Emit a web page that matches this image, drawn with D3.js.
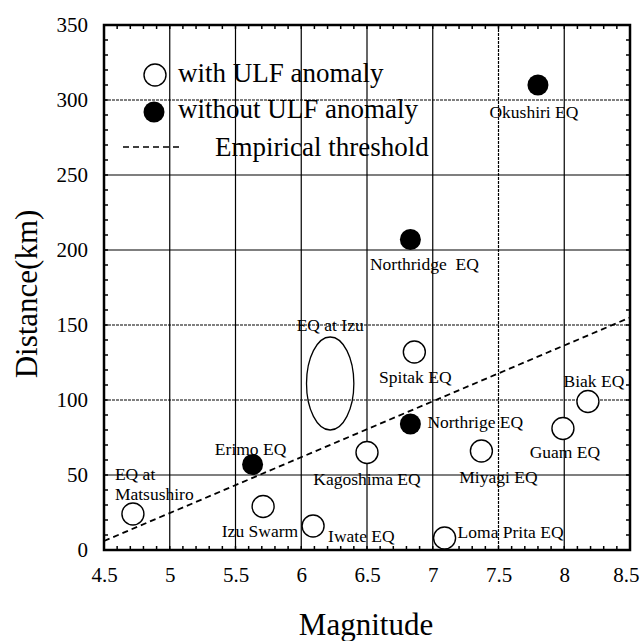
<!DOCTYPE html>
<html>
<head>
<meta charset="utf-8">
<script src="https://cdn.jsdelivr.net/npm/d3@7"></script>
<style>
  body { margin: 0; background: #fff; }
  text { font-family: "Liberation Serif", "DejaVu Serif", serif; fill: #000; }
</style>
</head>
<body>
<div id="chart"></div>
<script>
// earthquakes with ULF anomaly (open circles)
const withNames = ["EQ at Matsushiro", "Izu Swarm", "Iwate EQ", "Kagoshima EQ", "Spitak EQ",
  "Miyagi EQ", "Guam EQ", "Biak EQ", "Loma Prita EQ"];
const withMag = [4.72, 5.71, 6.09, 6.5, 6.86, 7.37, 7.99, 8.18, 7.09];
const withDist = [24, 29, 16, 65, 132, 66, 81, 99, 8];

// earthquakes without ULF anomaly (filled circles)
const withoutNames = ["Okushiri EQ", "Northridge  EQ", "Erimo EQ", "Northrige EQ"];
const withoutMag = [7.8, 6.83, 5.63, 6.83];
const withoutDist = [310, 207, 57, 84];

// EQ at Izu drawn as an ellipse (centre and half-sizes)
const izuCentre = [6.22, 111];
const izuHalf = [0.18, 31];

// empirical threshold end points
const threshMag = [4.5, 8.5];
const threshDist = [6, 155];

const xTicks = [4.5, 5, 5.5, 6, 6.5, 7, 7.5, 8, 8.5];
const yTicks = [0, 50, 100, 150, 200, 250, 300, 350];

const width = 640, height = 641;
const margin = { top: 25, right: 10, bottom: 91, left: 104 };
const iw = width - margin.left - margin.right;
const ih = height - margin.top - margin.bottom;
const labelSize = "17.5px";

const svg = d3.select("#chart").append("svg")
  .attr("width", width)
  .attr("height", height);

const g = svg.append("g").attr("transform", `translate(${margin.left},${margin.top})`);

const x = d3.scaleLinear().domain([4.5, 8.5]).range([0, iw]);
const y = d3.scaleLinear().domain([0, 350]).range([ih, 0]);

// grid lines (some of them look dotted in the original)
g.selectAll(".vgrid").data(xTicks.slice(1, -1)).enter().append("line")
  .attr("x1", d => x(d)).attr("x2", d => x(d))
  .attr("y1", 0).attr("y2", ih)
  .attr("stroke", "#000").attr("stroke-width", 1.2)
  .attr("stroke-dasharray", d => d === 7.5 ? "3,1" : null);

g.selectAll(".hgrid").data(yTicks.slice(1, -1)).enter().append("line")
  .attr("x1", 0).attr("x2", iw)
  .attr("y1", d => y(d)).attr("y2", d => y(d))
  .attr("stroke", "#000").attr("stroke-width", 1.2)
  .attr("stroke-dasharray", d => (d === 300 || d === 100 || d === 150) ? "3,1" : null);

// minor ticks on all four sides, pointing inwards
const xMinor = d3.range(4.6, 8.5, 0.1);
const yMinor = d3.range(10, 350, 10);
g.selectAll(".xb").data(xMinor).enter().append("line")
  .attr("x1", d => x(d)).attr("x2", d => x(d))
  .attr("y1", ih).attr("y2", ih - 4).attr("stroke", "#000").attr("stroke-width", 1.5);
g.selectAll(".xt").data(xMinor).enter().append("line")
  .attr("x1", d => x(d)).attr("x2", d => x(d))
  .attr("y1", 0).attr("y2", 4).attr("stroke", "#000").attr("stroke-width", 1.5);
g.selectAll(".yl").data(yMinor).enter().append("line")
  .attr("x1", 0).attr("x2", 4)
  .attr("y1", d => y(d)).attr("y2", d => y(d)).attr("stroke", "#000").attr("stroke-width", 1.5);
g.selectAll(".yr").data(yMinor).enter().append("line")
  .attr("x1", iw).attr("x2", iw - 4)
  .attr("y1", d => y(d)).attr("y2", d => y(d)).attr("stroke", "#000").attr("stroke-width", 1.5);

// frame
g.append("rect").attr("width", iw).attr("height", ih)
  .attr("fill", "none").attr("stroke", "#000").attr("stroke-width", 2.5);

// axes: labels only, the frame is drawn above
const xAxis = g.append("g").attr("transform", `translate(0,${ih})`)
  .call(d3.axisBottom(x).tickValues(xTicks).tickSize(0).tickPadding(17).tickFormat(d3.format("")));
const yAxis = g.append("g")
  .call(d3.axisLeft(y).tickValues(yTicks).tickSize(0).tickPadding(16));
[xAxis, yAxis].forEach(a => {
  a.select(".domain").remove();
  a.selectAll("text").style("font-family", "'Liberation Serif', serif")
    .style("font-size", "21px").attr("fill", "#000");
});
// keep the last x label inside the picture
xAxis.selectAll(".tick text").filter(d => d === 8.5)
  .attr("text-anchor", "end").attr("x", 9);

// threshold
g.append("line")
  .attr("x1", x(threshMag[0])).attr("y1", y(threshDist[0]))
  .attr("x2", x(threshMag[1])).attr("y2", y(threshDist[1]))
  .attr("stroke", "#000").attr("stroke-width", 1.8).attr("stroke-dasharray", "6,4");

// EQ at Izu
g.append("ellipse")
  .attr("cx", x(izuCentre[0])).attr("cy", y(izuCentre[1]))
  .attr("rx", x(izuCentre[0] + izuHalf[0]) - x(izuCentre[0]))
  .attr("ry", y(0) - y(izuHalf[1]))
  .attr("fill", "none").attr("stroke", "#000").attr("stroke-width", 1.3);

const withData = withNames.map((n, i) => ({ name: n, m: withMag[i], d: withDist[i] }));
const withoutData = withoutNames.map((n, i) => ({ name: n, m: withoutMag[i], d: withoutDist[i] }));

g.selectAll(".open").data(withData).enter().append("circle")
  .attr("cx", d => x(d.m)).attr("cy", d => y(d.d)).attr("r", 11)
  .attr("fill", "#fff").attr("stroke", "#000").attr("stroke-width", 1.4);

g.selectAll(".filled").data(withoutData).enter().append("circle")
  .attr("cx", d => x(d.m)).attr("cy", d => y(d.d)).attr("r", 10.5)
  .attr("fill", "#000");

// point labels: offsets in pixels relative to each point
const labelPos = {
  "EQ at Matsushiro": null,
  "Izu Swarm": [35, 26, "end"],
  "Iwate EQ": [15, 12, "start"],
  "Kagoshima EQ": [0, 28, "middle"],
  "Spitak EQ": [1, 27, "middle"],
  "Miyagi EQ": [17, 28, "middle"],
  "Guam EQ": [2, 25, "middle"],
  "Biak EQ": [6, -19, "middle"],
  "Loma Prita EQ": [13, -4, "start"],
  "Okushiri EQ": [-4, 29, "middle"],
  "Northridge  EQ": [14, 26, "middle"],
  "Erimo EQ": [-2, -14, "middle"],
  "Northrige EQ": [17, 0, "start"]
};

withData.concat(withoutData).forEach(p => {
  const pos = labelPos[p.name];
  if (!pos) return;
  g.append("text")
    .attr("x", x(p.m) + pos[0]).attr("y", y(p.d) + pos[1])
    .attr("text-anchor", pos[2]).attr("dominant-baseline", "middle")
    .style("font-size", labelSize).style("white-space", "pre")
    .text(p.name);
});

// two-line label for Matsushiro
const mats = withData[0];
g.append("text").attr("x", x(mats.m) - 18).attr("y", y(mats.d) - 38)
  .attr("dominant-baseline", "middle").style("font-size", labelSize).text("EQ at");
g.append("text").attr("x", x(mats.m) - 18).attr("y", y(mats.d) - 18)
  .attr("dominant-baseline", "middle").style("font-size", labelSize).text("Matsushiro");

// Izu label
g.append("text").attr("x", x(izuCentre[0])).attr("y", y(izuCentre[1]) - 57)
  .attr("text-anchor", "middle").attr("dominant-baseline", "middle")
  .style("font-size", labelSize).text("EQ at Izu");

// legend
const lg = svg.append("g");
lg.append("circle").attr("cx", 155).attr("cy", 75).attr("r", 11)
  .attr("fill", "#fff").attr("stroke", "#000").attr("stroke-width", 1.4);
lg.append("text").attr("x", 178).attr("y", 82).style("font-size", "27px").text("with ULF anomaly");
lg.append("circle").attr("cx", 154).attr("cy", 112).attr("r", 10.5).attr("fill", "#000");
lg.append("text").attr("x", 178).attr("y", 118).style("font-size", "27px").text("without ULF anomaly");
lg.append("line").attr("x1", 123).attr("x2", 183).attr("y1", 147).attr("y2", 147)
  .attr("stroke", "#000").attr("stroke-width", 1.6).attr("stroke-dasharray", "6,4");
lg.append("text").attr("x", 215).attr("y", 156).style("font-size", "27px").text("Empirical threshold");

// axis titles
svg.append("text")
  .attr("transform", `translate(37,294) rotate(-90)`)
  .attr("text-anchor", "middle").style("font-size", "31px").text("Distance(km)");
svg.append("text")
  .attr("x", 366).attr("y", 635)
  .attr("text-anchor", "middle").style("font-size", "31px").text("Magnitude");
</script>
</body>
</html>
